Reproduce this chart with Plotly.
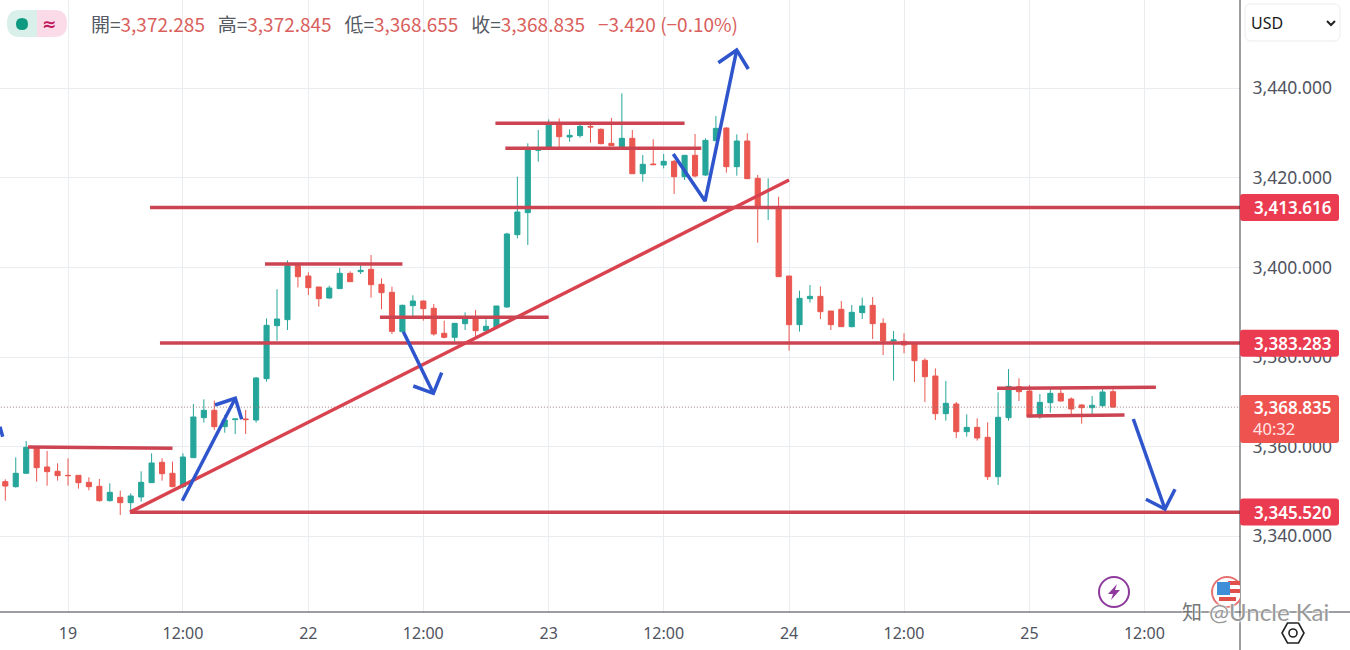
import plotly.graph_objects as go

# ---------- data ----------
opens = [3352.20,3351.08,3354.06,3359.86,3355.47,3354.50,3353.61,3353.61,3352.05,3351.16,
3347.96,3348.70,3347.51,3348.78,3351.97,3356.51,3354.06,3351.08,3357.55,3366.48,
3368.12,3364.47,3366.04,3366.19,3365.96,3375.19,3387.02,3388.36,3400.41,3398.10,
3395.65,3393.19,3395.28,3398.70,3399.07,3399.59,3396.24,3394.46,3385.68,3391.48,
3392.52,3390.89,3385.31,3384.41,3387.46,3388.95,3385.90,3386.72,3391.18,3407.33,
3412.24,3426.15,3426.37,3432.18,3429.13,3429.43,3431.51,3430.84,3427.71,3426.90,
3428.83,3420.94,3423.10,3422.88,3423.70,3420.27,3425.04,3420.65,3428.31,3431.14,
3422.51,3428.23,3419.90,3413.20,3413.43,3398.10,3387.24,3393.04,3393.56,3390.29,
3390.66,3386.79,3389.92,3391.55,3387.54,3383.59,3383.52,3382.92,3379.28,3375.78,
3367.37,3369.53,3363.36,3364.32,3362.09,3353.31,3366.48,3373.40,3372.43,3366.70,
3369.83,3371.91,3370.65,3369.31,3368.71,3369.16,3372.285]
closes = [3351.23,3354.06,3359.86,3355.32,3354.43,3353.54,3353.54,3351.97,3351.08,3347.96,
3349.82,3347.51,3349.00,3352.05,3356.36,3353.98,3351.08,3357.70,3366.63,3368.12,
3364.47,3365.96,3366.19,3366.04,3375.34,3387.09,3388.51,3400.41,3397.95,3395.50,
3393.04,3395.42,3398.70,3396.84,3399.37,3396.17,3394.38,3385.75,3391.56,3392.52,
3390.81,3385.16,3384.41,3387.54,3388.88,3385.90,3386.87,3391.41,3407.48,3412.39,
3426.37,3426.52,3432.18,3429.20,3429.50,3431.51,3431.36,3427.64,3427.19,3428.83,
3420.94,3423.03,3422.95,3423.70,3420.27,3425.04,3420.42,3428.38,3431.06,3422.51,
3428.23,3419.83,3413.35,3413.50,3397.95,3387.24,3393.12,3393.56,3390.14,3387.24,
3386.79,3389.99,3391.40,3387.46,3383.59,3383.82,3382.70,3379.20,3375.63,3367.37,
3369.68,3363.36,3364.32,3361.94,3353.31,3366.56,3373.47,3372.28,3366.70,3369.90,
3371.91,3370.20,3368.42,3368.71,3369.23,3372.21,3368.835]
highs = [3352.72,3357.63,3361.27,3360.01,3359.04,3356.29,3357.41,3353.61,3353.17,3352.79,
3351.83,3350.19,3349.59,3354.50,3358.52,3357.41,3356.66,3358.52,3369.53,3370.57,
3370.28,3367.08,3366.19,3368.19,3375.56,3388.65,3395.13,3401.60,3400.93,3398.92,
3395.65,3395.95,3399.89,3399.14,3400.93,3402.79,3397.58,3395.72,3391.70,3393.79,
3392.60,3391.85,3388.13,3387.54,3389.99,3390.51,3388.43,3391.41,3407.77,3420.27,
3427.71,3430.69,3433.07,3433.29,3430.84,3431.81,3432.55,3431.06,3433.37,3438.87,
3430.69,3425.11,3428.61,3425.33,3423.99,3425.04,3429.80,3428.83,3433.81,3431.29,
3429.72,3429.95,3420.65,3419.90,3415.81,3398.10,3394.83,3396.09,3395.79,3390.29,
3392.52,3391.63,3393.26,3393.41,3388.65,3385.82,3385.30,3383.07,3379.72,3377.49,
3374.66,3369.98,3367.22,3366.33,3365.44,3372.14,3377.34,3375.26,3373.77,3371.76,
3373.03,3373.03,3371.02,3369.46,3371.32,3373.40,3372.845]
lows = [3347.96,3350.86,3354.06,3352.20,3351.30,3352.42,3351.30,3350.64,3350.26,3347.73,
3347.73,3344.76,3345.50,3347.73,3351.97,3352.42,3350.93,3350.71,3357.55,3365.37,
3363.73,3363.13,3362.84,3362.84,3365.37,3374.52,3383.67,3386.05,3395.57,3393.86,
3391.26,3393.04,3395.28,3396.84,3398.55,3393.27,3390.66,3385.16,3385.68,3389.03,
3388.13,3384.79,3384.19,3383.45,3386.05,3384.56,3385.90,3386.42,3391.03,3406.51,
3405.02,3423.62,3426.37,3426.60,3428.09,3428.98,3427.86,3427.49,3427.19,3426.90,
3420.94,3419.16,3422.95,3422.13,3416.41,3419.53,3420.13,3420.42,3428.31,3421.17,
3420.50,3419.83,3405.54,3410.60,3397.95,3381.44,3385.68,3392.15,3388.50,3386.05,
3386.79,3386.64,3388.50,3384.04,3380.47,3374.74,3380.84,3374.44,3369.98,3365.96,
3365.81,3361.94,3362.24,3361.35,3352.57,3351.45,3365.81,3370.20,3366.70,3366.26,
3367.60,3370.13,3367.08,3365.14,3367.08,3368.79,3368.655]
candle_index = list(range(len(opens)))

tick_positions = [6,17,29,40,52,63,75,86,98,109]
tick_labels = ["19","12:00","22","12:00","23","12:00","24","12:00","25","12:00"]
price_ticks = [3340,3360,3380,3400,3420,3440]

last_price = 3368.835
level_prices = [3413.616,3383.283,3345.520]
level_drawn = [3413.42,3383.15,3345.38]
level_starts = [13.85,14.8,11.93]
trend_x = [11.93,75.0]
trend_y = [3345.4,3419.53]
short_x = [[2.17,16.0],[24.85,38.0],[35.85,52.0],[46.9,65.0],[47.85,66.6],[94.9,110.1],[97.75,107.1]]
short_y = [[3359.93,3359.64],[3400.8,3400.8],[3388.88,3388.88],[3432.19,3432.19],[3426.6,3426.6],[3373.04,3373.26],[3366.85,3367.08]]
arrow_x = [[-0.51,-0.25],
           [16.94,22.01,None,20.07,22.01,22.62],
           [38.09,40.96,None,39.04,40.96,41.76],
           [63.92,66.96,69.99,None,68.23,69.99,71.1],
           [107.94,110.97,None,109.15,110.97,111.93]]
arrow_y = [[3364.46,3362.23],
           [3347.95,3370.80,None,3369.31,3370.80,3366.12],
           [3385.67,3371.92,None,3373.55,3371.92,3376.52],
           [3425.33,3414.84,3448.55,None,3445.71,3448.55,3444.31],
           [3366.18,3346.09,None,3348.26,3346.09,3350.49]]

# ---------- layout constants ----------
W, H, PW, PH = 1350, 650, 1240, 612
RED, BLUE, TAG = "#cc4452", "#2f55cc", "#ea3b50"
UP, DOWN = "#26a69a", "#ea5750"
TXT = "#50535e"
FONT = "Noto Sans"
def px(x): return x / PW
def py(y): return 1 - y / PH
def dx(x): return (x - 5.3) / 10.45
def dy(y): return 3400 - (y - 267.5) / 4.48

def rounded(x0, y0, x1, y1, r):
    p = lambda a, b: f"{px(a)} {py(b)}"
    return (f"M {p(x0+r,y0)} L {p(x1-r,y0)} Q {p(x1,y0)} {p(x1,y0+r)} L {p(x1,y1-r)} Q {p(x1,y1)} {p(x1-r,y1)} "
            f"L {p(x0+r,y1)} Q {p(x0,y1)} {p(x0,y1-r)} L {p(x0,y0+r)} Q {p(x0,y0)} {p(x0+r,y0)} Z")

fig = go.Figure()
fig.add_trace(go.Candlestick(x=candle_index, open=opens, high=highs, low=lows, close=closes,
    increasing=dict(line=dict(color=UP, width=1), fillcolor=UP),
    decreasing=dict(line=dict(color=DOWN, width=1), fillcolor=DOWN),
    whiskerwidth=0, showlegend=False, hoverinfo="skip"))

# last price dotted line
fig.add_trace(go.Scatter(x=[-1, 119], y=[last_price, last_price], mode="lines",
    line=dict(color="#9a7a7a", width=1, dash="1px 2px"), showlegend=False, hoverinfo="skip"))

for s, v in zip(level_starts, level_drawn):
    fig.add_trace(go.Scatter(x=[s, 119], y=[v, v], mode="lines", line=dict(color=RED, width=3.5),
                             showlegend=False, hoverinfo="skip"))
fig.add_trace(go.Scatter(x=trend_x, y=trend_y, mode="lines", line=dict(color="#d8434f", width=3.5),
                         showlegend=False, hoverinfo="skip"))
for a, b in zip(short_x, short_y):
    fig.add_trace(go.Scatter(x=a, y=b, mode="lines", line=dict(color=RED, width=3.5),
                             showlegend=False, hoverinfo="skip"))
for a, b in zip(arrow_x, arrow_y):
    fig.add_trace(go.Scatter(x=a, y=b, mode="lines", line=dict(color=BLUE, width=3.5),
                             showlegend=False, hoverinfo="skip"))

shapes = []
ann = []
def paper_line(x0, y0, x1, y1, color="#3a3d45", width=1):
    shapes.append(dict(type="line", xref="paper", yref="paper", x0=px(x0), y0=py(y0), x1=px(x1), y1=py(y1),
                       line=dict(color=color, width=width), layer="above"))
paper_line(0, 612, 1350, 612)
paper_line(1240, 0, 1240, 650)

# price tags
tag_centers = [207.4, 343.3, 512.0]
for c, v in zip(tag_centers, level_prices):
    shapes.append(dict(type="path", xref="paper", yref="paper", path=rounded(1240, c-13.5, 1339, c+13.5, 3),
                       fillcolor=TAG, line=dict(width=0), layer="above"))
    ann.append(dict(xref="paper", yref="paper", x=px(1293), y=py(c), xanchor="center", yanchor="middle",
                    text=f"{v:,.3f}", showarrow=False, font=dict(family=FONT, size=17, color="#ffffff", weight=600)))
shapes.append(dict(type="path", xref="paper", yref="paper", path=rounded(1240, 395, 1339, 443, 3),
                   fillcolor="#ef5350", line=dict(width=0), layer="above"))
ann.append(dict(xref="paper", yref="paper", x=px(1293), y=py(407), xanchor="center", yanchor="middle",
                text=f"{last_price:,.3f}", showarrow=False, font=dict(family=FONT, size=17, color="#ffffff", weight=600)))
ann.append(dict(xref="paper", yref="paper", x=px(1251), y=py(429), xanchor="left", yanchor="middle",
                text="40:32", showarrow=False, font=dict(family=FONT, size=16.5, color="#ffe6e6")))

# header
shapes.append(dict(type="path", xref="paper", yref="paper", path=rounded(7, 10, 37, 37, 13),
                   fillcolor="#d9efea", line=dict(width=0), layer="above"))
shapes.append(dict(type="path", xref="paper", yref="paper", path=rounded(37, 10, 67, 37, 13),
                   fillcolor="#fbdbe7", line=dict(width=0), layer="above"))
shapes.append(dict(type="rect", xref="paper", yref="paper", x0=px(26), x1=px(37), y0=py(10), y1=py(37),
                   fillcolor="#d9efea", line=dict(width=0), layer="above"))
shapes.append(dict(type="rect", xref="paper", yref="paper", x0=px(37), x1=px(48), y0=py(10), y1=py(37),
                   fillcolor="#fbdbe7", line=dict(width=0), layer="above"))
shapes.append(dict(type="path", xref="paper", yref="paper", path=rounded(16, 18, 28, 30, 6),
                   fillcolor="#0e9a80", line=dict(width=0), layer="above"))
ann.append(dict(xref="paper", yref="paper", x=px(49), y=py(24), xanchor="center", yanchor="middle", text="≈",
                showarrow=False, font=dict(family="DejaVu Sans", size=17, color="#c2185b", weight=700)))

VAL = "#d9605c"
LAB = "#555a63"
GAP = "&nbsp;&nbsp;&nbsp;"
def sp(t, c): return f'<span style="color:{c}">{t}</span>'
header = (sp("開=", LAB) + sp("3,372.285", VAL) + GAP + sp("高=", LAB) + sp("3,372.845", VAL) + GAP +
          sp("低=", LAB) + sp("3,368.655", VAL) + GAP + sp("收=", LAB) + sp("3,368.835", VAL) + GAP +
          sp("−3.420 (−0.10%)", VAL))
ann.append(dict(xref="paper", yref="paper", x=px(89), y=py(24), xanchor="left", yanchor="middle", text=header,
                showarrow=False, font=dict(family="Noto Sans CJK TC", size=19, color=LAB)))

# USD box
shapes.append(dict(type="path", xref="paper", yref="paper", path=rounded(1245, 4, 1340, 41, 6),
                   fillcolor="#ffffff", line=dict(color="#ececec", width=1), layer="above"))
ann.append(dict(xref="paper", yref="paper", x=px(1249), y=py(23), xanchor="left", yanchor="middle", text="USD",
                showarrow=False, font=dict(family=FONT, size=16, color="#1a1a1a")))
shapes.append(dict(type="path", xref="paper", yref="paper",
                   path=f"M {px(1327)} {py(21)} L {px(1331)} {py(25)} L {px(1335)} {py(21)}",
                   line=dict(color="#222222", width=2), layer="above"))

# purple bolt icon
shapes.append(dict(type="circle", xref="paper", yref="paper", x0=px(1099), x1=px(1129), y0=py(577), y1=py(607),
                   fillcolor="#ffffff", line=dict(color="#8e3a9d", width=2), layer="above"))
shapes.append(dict(type="path", xref="paper", yref="paper",
                   path=f"M {px(1117)} {py(584)} L {px(1108)} {py(594)} L {px(1113)} {py(594)} L {px(1111)} {py(600)} "
                        f"L {px(1120)} {py(590)} L {px(1115)} {py(590)} Z",
                   fillcolor="#8e3a9d", line=dict(width=0), layer="above"))

# flag icon, clipped by the price scale
def drect(x0, y0, x1, y1, c):
    shapes.append(dict(type="rect", xref="x", yref="y", x0=dx(x0), x1=dx(x1), y0=dy(y0), y1=dy(y1),
                       fillcolor=c, line=dict(width=0), layer="above"))
shapes.append(dict(type="circle", xref="x", yref="y", x0=dx(1212), x1=dx(1242), y0=dy(577), y1=dy(607),
                   fillcolor="#ffffff", line=dict(color="#e57373", width=2), layer="above"))
drect(1228, 581, 1240, 585, "#e2504c")
drect(1228, 589, 1240, 593, "#e2504c")
drect(1219, 597, 1236, 601, "#e2504c")
drect(1217, 582, 1230, 595, "#3f8ed8")

# settings hexagon
cx, cy, rx, ry = 1293, 633, 11, 10
hexa = [(cx-rx, cy), (cx-rx/2, cy-ry), (cx+rx/2, cy-ry), (cx+rx, cy), (cx+rx/2, cy+ry), (cx-rx/2, cy+ry)]
shapes.append(dict(type="path", xref="paper", yref="paper",
                   path="M " + " L ".join(f"{px(a)} {py(b)}" for a, b in hexa) + " Z",
                   line=dict(color="#222222", width=1.6), layer="above"))
shapes.append(dict(type="circle", xref="paper", yref="paper", x0=px(1289), x1=px(1297), y0=py(629), y1=py(637),
                   line=dict(color="#222222", width=1.6), layer="above"))

# watermark
ann.append(dict(xref="paper", yref="paper", x=px(1192), y=py(611), xanchor="center", yanchor="middle", text="知",
                showarrow=False, font=dict(family="Noto Sans CJK SC", size=20, color="#777777",
                                           shadow="0 0 2px #fff, 0 0 2px #fff")))
ann.append(dict(xref="paper", yref="paper", x=px(1207), y=py(611), xanchor="left", yanchor="middle", text="@Uncle Kai",
                showarrow=False, font=dict(family="Lato", size=24, color="#999999",
                                           shadow="0 0 2px #fff, 0 0 2px #fff, 0 0 3px #fff")))

fig.update_layout(
    width=W, height=H, autosize=False,
    margin=dict(l=0, r=W-PW, t=0, b=H-PH),
    paper_bgcolor="#ffffff", plot_bgcolor="#ffffff",
    shapes=shapes, annotations=ann, showlegend=False, boxgap=0.3,
    font=dict(family=FONT, size=16, color=TXT),
    xaxis=dict(range=[-0.507, 118.15], rangeslider=dict(visible=False), tickmode="array",
               tickvals=tick_positions, ticktext=tick_labels, showgrid=True, gridcolor="#e9edf0", gridwidth=1,
               zeroline=False, showline=False, ticks="outside", ticklen=7, tickcolor="rgba(0,0,0,0)",
               tickfont=dict(family=FONT, size=16, color=TXT)),
    yaxis=dict(range=[dy(612), dy(0)], side="right", tickmode="array", tickvals=price_ticks,
               tickformat=",.3f", showgrid=True, gridcolor="#e9edf0", gridwidth=1, zeroline=False, showline=False,
               ticks="outside", ticklen=8, tickcolor="rgba(0,0,0,0)",
               tickfont=dict(family=FONT, size=17.5, color=TXT)),
)
fig.write_html("out.html", config=dict(displayModeBar=False),
               post_script="document.body.style.margin='0';")
